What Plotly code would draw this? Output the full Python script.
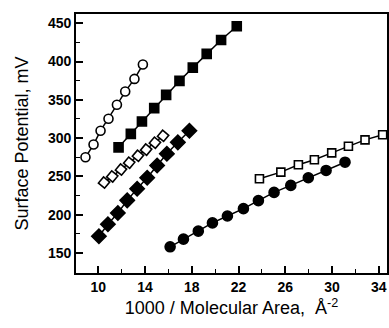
import plotly.graph_objects as go

# Open circles
oc_x = [8.91, 9.60, 10.20, 10.88, 11.60, 12.31, 13.10, 13.82]
oc_y = [275, 291.6, 309.7, 325.3, 343.5, 360.8, 377.3, 396]
# Filled squares
fs_x = [11.74, 12.79, 13.74, 14.79, 15.81, 16.95, 18.09, 19.28, 20.51, 21.85]
fs_y = [288, 305.5, 321.8, 339.2, 356.5, 374.7, 392, 410, 428, 446]
# Open squares (low area)
os1_x = [10.5, 11.2, 11.95, 12.65, 13.4, 14.1, 14.85, 15.55]
os1_y = [242, 250, 259, 268, 277, 285, 294, 303]
# Filled diamonds
fd_x = [10.06, 10.83, 11.68, 12.48, 13.33, 14.19, 15.04, 15.87, 16.81, 17.80]
fd_y = [172, 187.7, 202.3, 218.8, 234, 248.3, 264.3, 279.5, 294.5, 309.7]
# Filled circles
fc_x = [16.15, 17.29, 18.56, 19.77, 21.05, 22.42, 23.70, 25.04, 26.47, 27.97, 29.49, 31.11]
fc_y = [158.2, 168.2, 178.6, 189.4, 198.4, 208, 218.4, 229.2, 238.3, 248.3, 257.8, 268.6]
# Open squares (high area)
os2_x = [23.79, 25.62, 27.12, 28.49, 29.97, 31.40, 32.82, 34.33]
os2_y = [247, 255.6, 265.2, 271.7, 280.8, 289.4, 297.7, 304.5]

x_ticks = [10, 14, 18, 22, 26, 30, 34]
y_ticks = [150, 200, 250, 300, 350, 400, 450]

fig = go.Figure()

def add(x, y, symbol, size, fill, angle=0):
    fig.add_trace(go.Scatter(
        x=x, y=y, mode="lines+markers",
        line=dict(color="black", width=1.5),
        marker=dict(symbol=symbol, size=size, color=fill, angle=angle,
                    line=dict(color="black", width=1.6)),
        showlegend=False, cliponaxis=False, hoverinfo="skip"))

add(oc_x, oc_y, "circle", 9, "white")
add(fs_x, fs_y, "square", 9, "black")
add(os1_x, os1_y, "square", 8, "white", angle=40)
add(fd_x, fd_y, "diamond", 11, "black")
add(fc_x, fc_y, "circle", 10, "black")
add(os2_x, os2_y, "square", 8, "white")

tickfont = dict(size=14, family="Liberation Sans, Arial, sans-serif", color="black", weight="bold")
titlefont = dict(size=18, family="Liberation Sans, Arial, sans-serif", color="black")

fig.update_layout(
    width=389, height=328,
    margin=dict(l=76, r=2, t=14, b=55, autoexpand=False),
    plot_bgcolor="white", paper_bgcolor="white",
    font=dict(family="Liberation Sans, Arial, sans-serif", color="black"),
    xaxis=dict(
        range=[8.1, 34.7], tickvals=x_ticks, ticktext=[str(v) for v in x_ticks],
        ticks="inside", ticklen=7, tickwidth=1.5, tickcolor="black",
        minor=dict(dtick=2, tick0=0, ticks="inside", ticklen=4, tickwidth=1.2, tickcolor="black"),
        showline=True, linecolor="black", linewidth=1.8, mirror=True,
        showgrid=False, zeroline=False, automargin=False,
        tickfont=tickfont,
        title=dict(text="1000 / Molecular Area,  Å<sup>-2</sup>", font=titlefont, standoff=8),
    ),
    yaxis=dict(
        range=[124, 462], tickvals=y_ticks, ticktext=[str(v) for v in y_ticks],
        ticks="inside", ticklen=7, tickwidth=1.5, tickcolor="black",
        minor=dict(dtick=25, tick0=0, ticks="inside", ticklen=4, tickwidth=1.2, tickcolor="black"),
        showline=True, linecolor="black", linewidth=1.8, mirror=True,
        showgrid=False, zeroline=False, automargin=False,
        tickfont=tickfont,
        title=dict(text="Surface Potential, mV", font=titlefont, standoff=15),
    ),
)

# remove the browser's default 8px page margin so the 389x328 figure fills the window exactly
fig.write_html("out.html",
               config={"displayModeBar": False},
               post_script="document.body.style.margin='0';document.body.style.overflow='hidden';")
